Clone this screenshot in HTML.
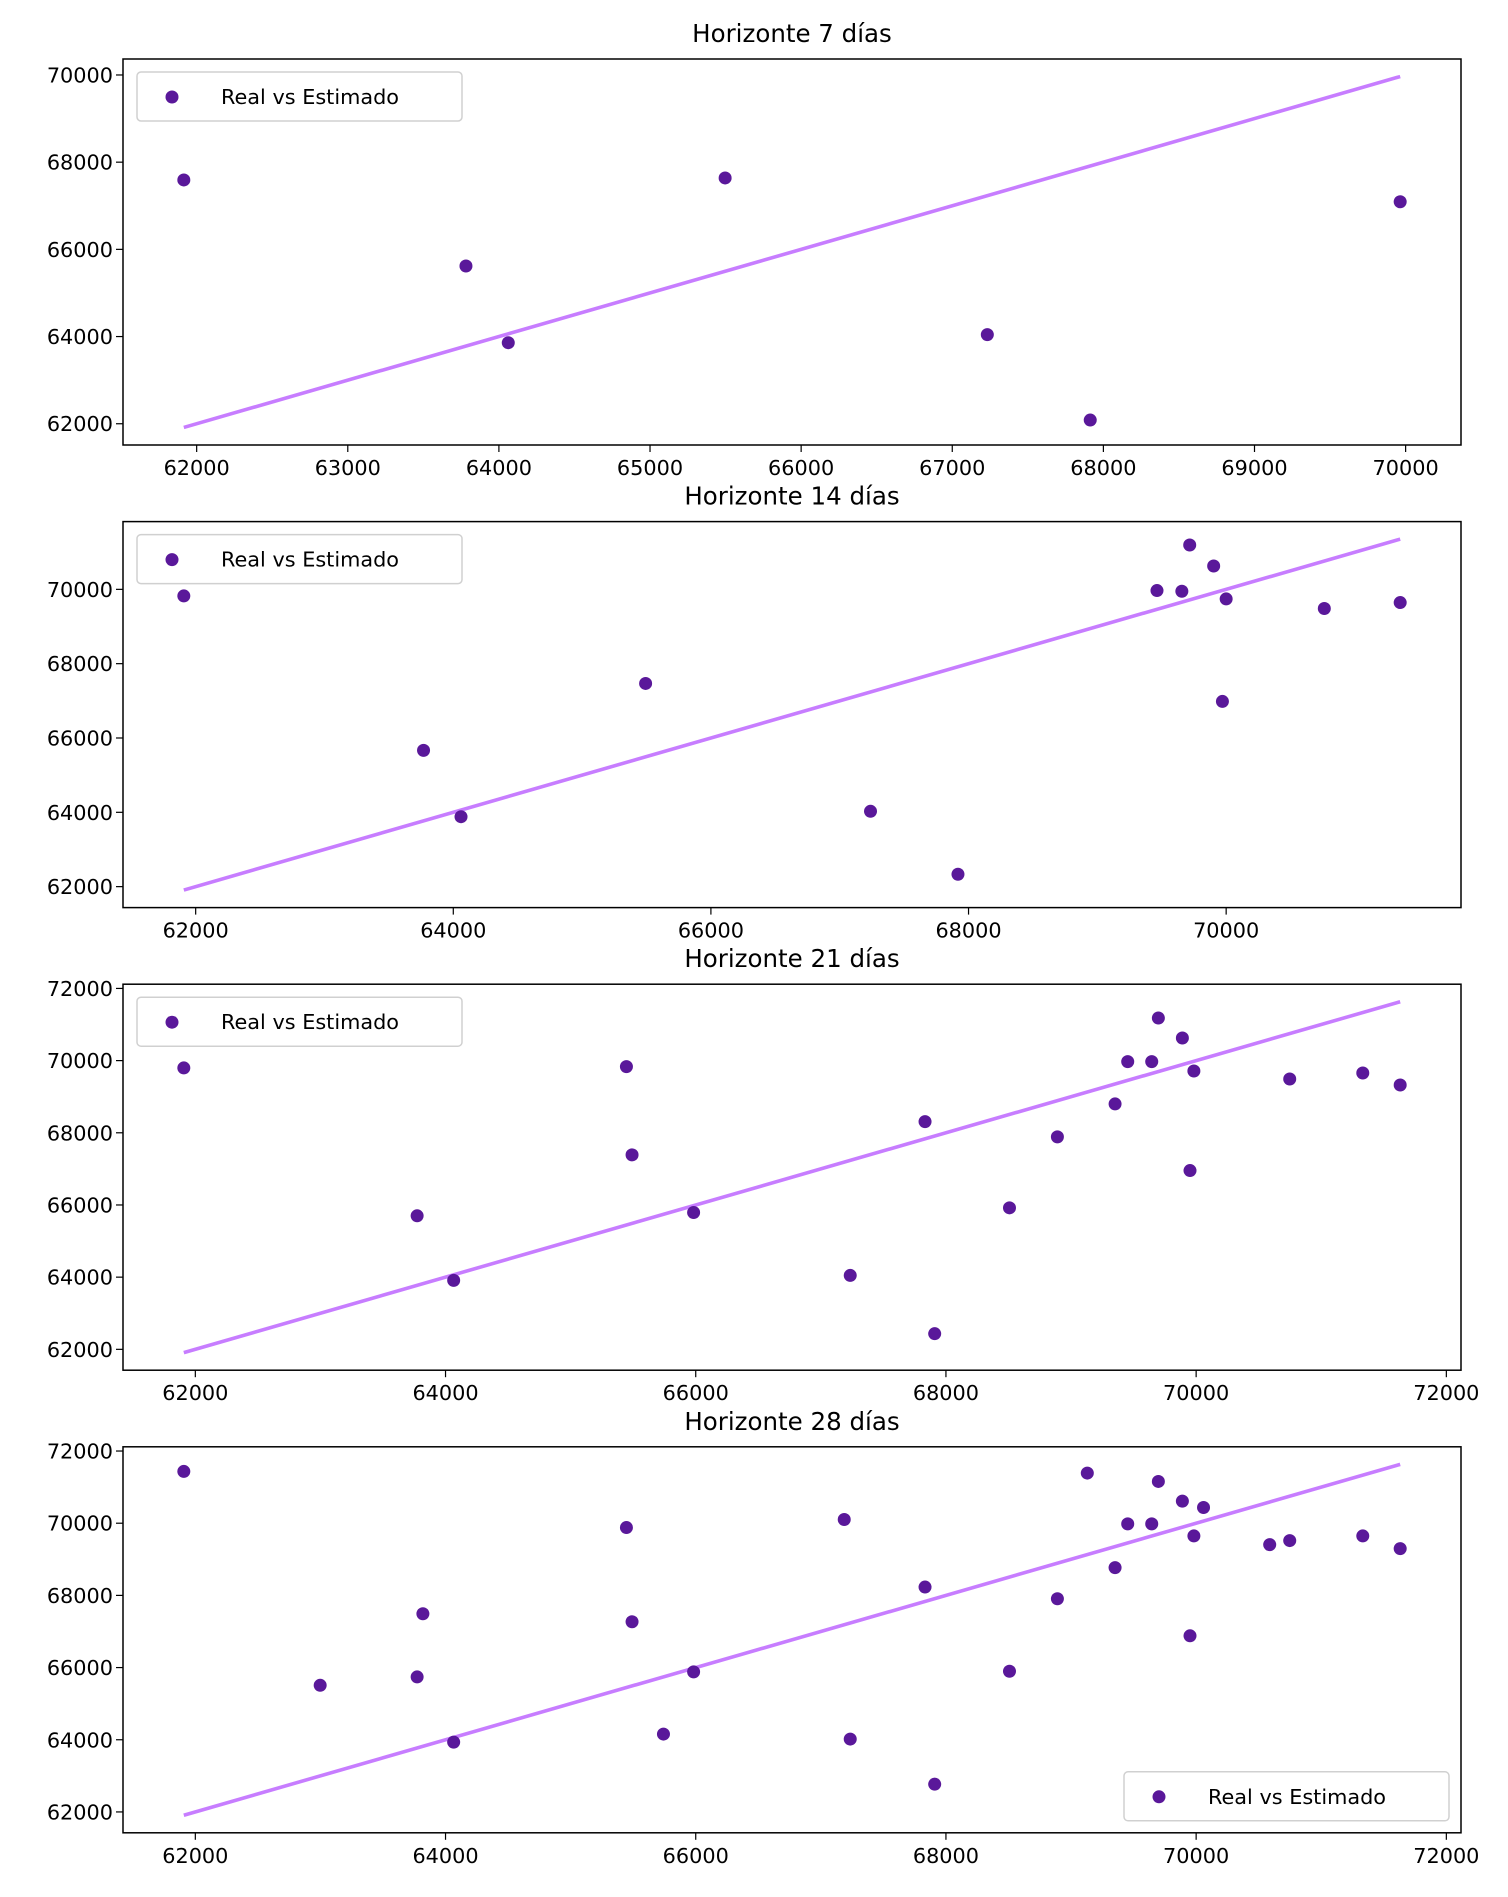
<!DOCTYPE html>
<html><head><meta charset="utf-8"><style>
html,body{margin:0;padding:0;background:#fff}
svg{display:block}
text{font-family:"DejaVu Sans","Liberation Sans",sans-serif;fill:#000}
</style></head><body>
<svg id="fig" width="1508" height="1897" viewBox="0 0 1508 1897" xmlns="http://www.w3.org/2000/svg"></svg>
<script>
// Panel titles
const titles = ["Horizonte 7 días","Horizonte 14 días","Horizonte 21 días","Horizonte 28 días"];
// Real values (x) per panel
const real7 = [61915,63782,64062,65497,67232,67913,69964];
const est7  = [67592,65618,63859,67638,64044,62085,67092];
const real14 = [61908,63769,64060,65493,67239,67918,69463,69656,69717,69903,69971,70000,70762,71351];
const est14  = [69823,65667,63882,67468,64027,62333,69968,69949,71194,70629,66984,69742,69484,69645];
const real21 = [61908,63773,64065,65446,65491,65983,67235,67833,67910,68508,68891,69352,69453,69645,69698,69890,69951,69982,70748,71332,71631];
const est21  = [69797,65700,63910,69833,67388,65792,64048,68310,62434,65921,67886,68800,69971,69971,71180,70626,66954,69713,69491,69657,69325];
const real28 = [61908,62998,63773,63819,64065,65446,65491,65742,65983,67187,67235,67833,67910,68508,68891,69130,69352,69453,69645,69698,69890,69951,69982,70059,70588,70748,71332,71631];
const est28  = [71435,65509,65741,67491,63935,69880,67269,64157,65880,70102,64019,68231,62769,65898,67907,71389,68769,69981,69981,71157,70611,66880,69648,70435,69407,69519,69648,69296];
// Tick labels
const xTicks7 = [62000,63000,64000,65000,66000,67000,68000,69000,70000];
const yTicks7 = [62000,64000,66000,68000,70000];
const xTicks14 = [62000,64000,66000,68000,70000];
const yTicks14 = [62000,64000,66000,68000,70000];
const xTicks21 = [62000,64000,66000,68000,70000,72000];
const yTicks21 = [62000,64000,66000,68000,70000,72000];
const xTicks28 = [62000,64000,66000,68000,70000,72000];
const yTicks28 = [62000,64000,66000,68000,70000,72000];
const legendLabel = "Real vs Estimado";

const panels = [
  {xs:real7, ys:est7, xt:xTicks7, yt:yTicks7, leg:"tl"},
  {xs:real14, ys:est14, xt:xTicks14, yt:yTicks14, leg:"tl"},
  {xs:real21, ys:est21, xt:xTicks21, yt:yTicks21, leg:"tl"},
  {xs:real28, ys:est28, xt:xTicks28, yt:yTicks28, leg:"br"}
];
const NS="http://www.w3.org/2000/svg";
const svg=document.getElementById('fig');
function mk(tag,attrs,parent){const e=document.createElementNS(NS,tag);for(const k in attrs)e.setAttribute(k,attrs[k]);(parent||svg).appendChild(e);return e;}
const L=123,R=1461,H=386,top0=59,step=462.6;
panels.forEach((p,i)=>{
  const T=top0+i*step,B=T+H;
  const g=mk('g',{});
  
  
  const xmin=Math.min(...p.xs),xmax=Math.max(...p.xs);
  const ymin=Math.min(xmin,...p.ys),ymax=Math.max(xmax,...p.ys);
  const xm=(xmax-xmin)*0.05,ym=(ymax-ymin)*0.05;
  const x0=xmin-xm,x1=xmax+xm,y0=ymin-ym,y1=ymax+ym;
  const X=v=>L+(v-x0)/(x1-x0)*(R-L);
  const Y=v=>B-(v-y0)/(y1-y0)*H;
  const t=mk('text',{x:(L+R)/2,y:T-17,'text-anchor':'middle','font-size':24.5},g);
  t.textContent=titles[i];
  
  
  const ln=mk('line',{x1:X(xmin),y1:Y(xmin),x2:X(xmax),y2:Y(xmax),stroke:'#c77dff','stroke-width':3.6},g);
  
  
  p.xs.forEach((v,j)=>{
    const c=mk('circle',{cx:X(v),cy:Y(p.ys[j]),r:6.5,fill:'#5a189a'},g);
    
    
  });
  const fr=mk('rect',{x:L,y:T,width:R-L,height:H,fill:'none',stroke:'#000','stroke-width':1.5},g);
  
  
  p.xt.forEach(v=>{
    const x=X(v);
    const tk=mk('line',{x1:x,y1:B,x2:x,y2:B+7,stroke:'#000','stroke-width':1.2},g);
    
    
    const tl=mk('text',{x:x,y:B+30,'text-anchor':'middle','font-size':20.8},g);
    tl.textContent=v;
    
    
  });
  p.yt.forEach(v=>{
    const y=Y(v);
    const tk=mk('line',{x1:L,y1:y,x2:L-7,y2:y,stroke:'#000','stroke-width':1.2},g);
    
    
    const tl=mk('text',{x:L-10,y:y+7.5,'text-anchor':'end','font-size':20.8},g);
    tl.textContent=v;
    
    
  });
  const lw=325,lh=49;
  const lx=p.leg==='tl'?L+14:R-12-lw, ly=p.leg==='tl'?T+13:B-12-lh;
  const lg=mk('g',{},g);
  
  
  mk('rect',{x:lx,y:ly,width:lw,height:lh,rx:4,fill:'#fff','fill-opacity':0.8,stroke:'#d0d0d0','stroke-width':1.5},lg);
  mk('circle',{cx:lx+35,cy:ly+25,r:6.5,fill:'#5a189a'},lg);
  const lt=mk('text',{x:lx+84,y:ly+32,'font-size':20.8},lg);
  lt.textContent=legendLabel;
  
  
});
</script>
</body></html>
